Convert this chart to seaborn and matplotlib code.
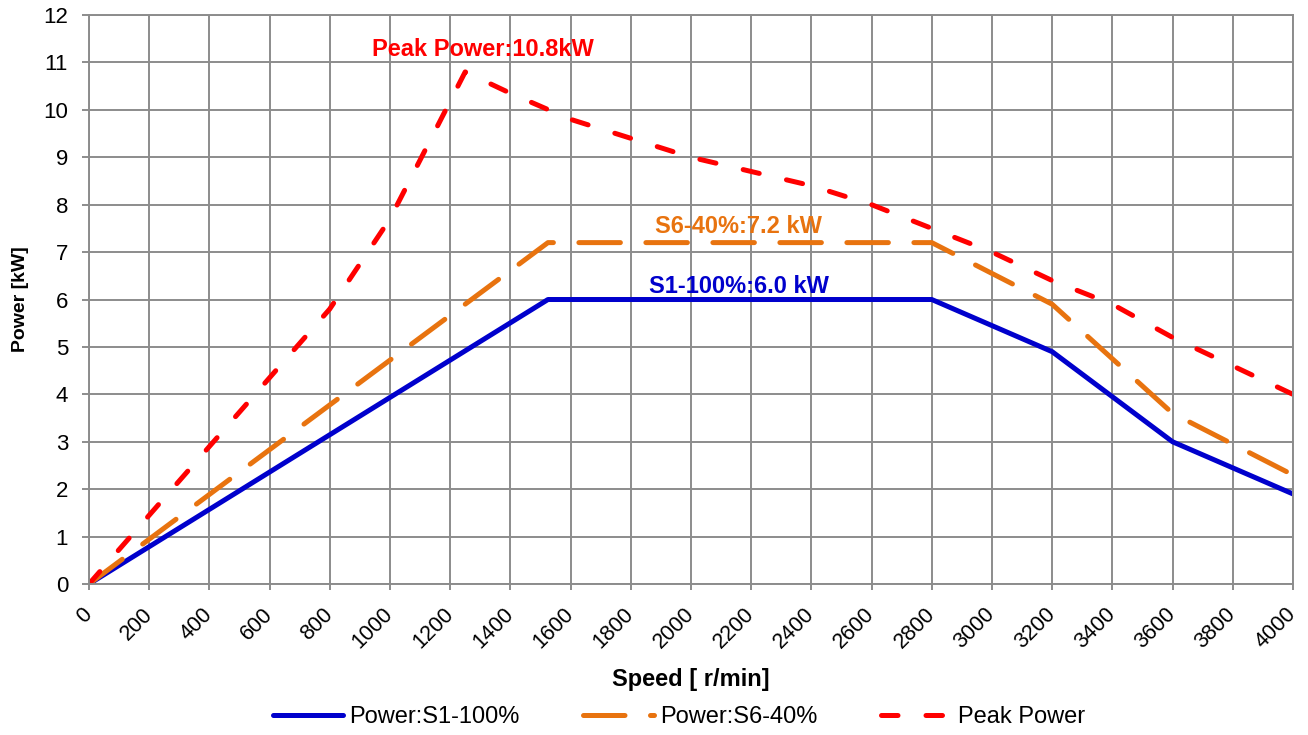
import numpy as np
import pandas as pd
import seaborn as sns
import matplotlib.pyplot as plt

# characteristic curves
s1_speed = [0, 1525, 2800, 3200, 3600, 4000]
s1_power = [0, 6.0, 6.0, 4.9, 3.0, 1.9]

s6_speed = [0, 1525, 2800, 3200, 3600, 4000]
s6_power = [0, 7.2, 7.2, 5.9, 3.6, 2.3]

peak_speed = [0, 200, 400, 600, 800, 1000, 1250, 1400, 1600, 1800, 2000,
              2200, 2400, 2600, 2800, 3000, 3200, 3400, 3600, 3800, 4000]
peak_power = [0, 1.45, 2.9, 4.35, 5.8, 7.7, 10.8, 10.35, 9.8, 9.4, 9.0,
              8.7, 8.4, 8.0, 7.5, 7.0, 6.4, 5.9, 5.2, 4.6, 4.0]

series_names = ['Power:S1-100%', 'Power:S6-40%', 'Peak Power']
x_ticks = list(range(0, 4001, 200))
y_ticks = list(range(0, 13))

df = pd.concat([
    pd.DataFrame({'speed': s1_speed, 'power': s1_power, 'series': series_names[0]}),
    pd.DataFrame({'speed': s6_speed, 'power': s6_power, 'series': series_names[1]}),
    pd.DataFrame({'speed': peak_speed, 'power': peak_power, 'series': series_names[2]}),
], ignore_index=True)

blue, orange, red = '#0000CC', '#E8730F', '#FF0000'
grid_c = '#8C8C8C'

sns.set_style('white')
plt.rcParams['font.family'] = ['Liberation Sans', 'DejaVu Sans']
plt.rcParams['text.color'] = 'black'
plt.rcParams['axes.labelcolor'] = 'black'

fig = plt.figure(figsize=(13.08, 7.35), dpi=100)
ax = fig.add_axes([0.068, 0.2054, 0.9205, 0.7742])

sns.lineplot(data=df, x='speed', y='power', hue='series', style='series',
             hue_order=series_names, style_order=series_names,
             palette={series_names[0]: blue, series_names[1]: orange, series_names[2]: red},
             dashes={series_names[0]: '', series_names[1]: (8.3, 5.1), series_names[2]: (3.3, 5.6)},
             linewidth=3.6, legend=False, sort=False, estimator=None,
             dash_capstyle='round', solid_capstyle='round', ax=ax)

ax.set_xlim(0, 4000)
ax.set_ylim(0, 12)
ax.set_xticks(x_ticks)
ax.set_yticks(y_ticks)
ax.set_xticklabels([str(t) for t in x_ticks], rotation=45, ha='right', va='center',
                   rotation_mode='anchor', fontsize=15.5)
ax.set_yticklabels([str(t) for t in y_ticks], fontsize=16)
ax.tick_params(axis='both', colors=grid_c, labelcolor='black', width=1.4,
               direction='out', left=True, bottom=True)
ax.tick_params(axis='y', length=5, pad=10)
ax.tick_params(axis='x', length=4.5, pad=15)

ax.grid(True, color=grid_c, linewidth=1.4)
ax.set_axisbelow(True)
for s in ax.spines.values():
    s.set_color(grid_c)
    s.set_linewidth(1.4)

ax.set_xlabel('Speed [ r/min]', fontsize=17, fontweight='bold', labelpad=11)
ax.set_ylabel('Power [kW]', fontsize=14, fontweight='bold', labelpad=10)

ax.text(1309, 11.28, 'Peak Power:10.8kW', color=red, fontsize=17,
        fontweight='bold', ha='center', va='center')
ax.text(2159, 7.55, 'S6-40%:7.2 kW', color=orange, fontsize=17,
        fontweight='bold', ha='center', va='center')
ax.text(2159, 6.28, 'S1-100%:6.0 kW', color=blue, fontsize=17,
        fontweight='bold', ha='center', va='center')

leg = fig.legend(handles=ax.lines[:3], labels=series_names, loc='center',
                 bbox_to_anchor=(0.519, 0.024), ncol=3, frameon=False,
                 fontsize=17, handlelength=3.0, handletextpad=0.25,
                 columnspacing=2.7)

fig.savefig('out.png', dpi=100)
